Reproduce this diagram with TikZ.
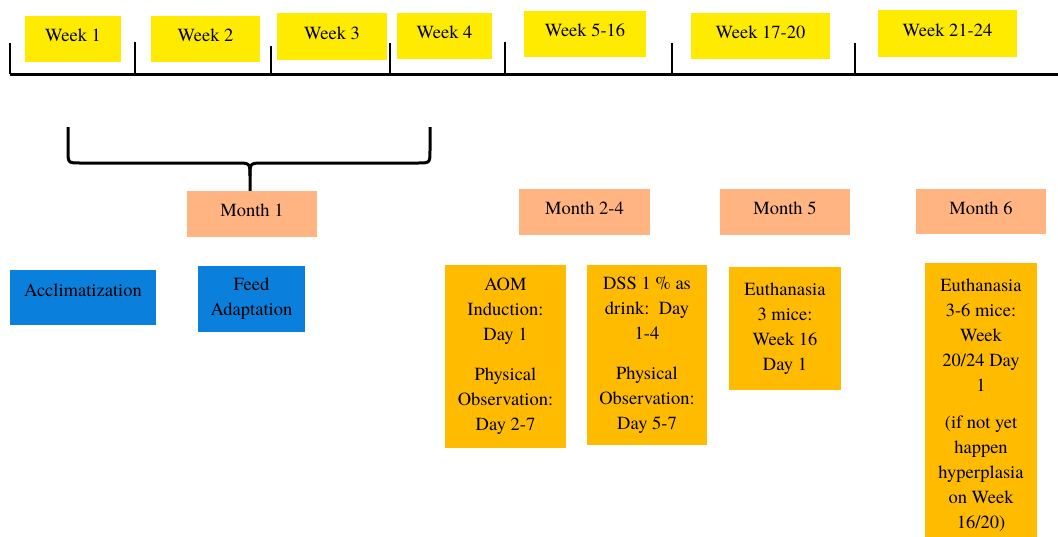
\documentclass[tikz,border=0pt]{standalone}
\usepackage{fontspec}
\setmainfont{TeX Gyre Termes}
\definecolor{wkyellow}{HTML}{FFEB00}
\definecolor{mosalmon}{HTML}{FFB482}
\definecolor{actblue}{HTML}{0A80DC}
\definecolor{actorange}{HTML}{FFBB00}
\begin{document}
\begin{tikzpicture}[x=1pt,y=-1pt,
  box/.style={inner sep=0pt, align=center, font=\rmfamily\fontsize{18.5}{25}\selectfont},
  single/.style={box, text height=13pt, text depth=8pt},
  wk/.style={single, fill=wkyellow},
  mo/.style={single, fill=mosalmon},
  bl/.style={box, fill=actblue},
  og/.style={box, fill=actorange},
  axis/.style={line width=3pt},
  tick/.style={line width=2.5pt},
  brace/.style={line width=3pt, line join=round}]
\useasboundingbox (0,0) rectangle (1058,536);
\clip (0,0) rectangle (1058,536);
% timeline
\coordinate (tl0) at (10,74);
\coordinate (tl1) at (1058,74);
\draw[axis] (tl0) -- (tl1);
\foreach \x/\t in {10/43,135/42,271/46,390/43,505/42,672/43,855/43}
  \draw[tick] (\x,74) -- (\x,\t);
% week boxes
\node[wk, minimum width=96pt, minimum height=46pt] (w1) at (73,39) {Week 1};
\node[wk, minimum width=109pt, minimum height=46pt] (w2) at (205.5,39) {Week 2};
\node[wk, minimum width=110pt, minimum height=47pt] (w3) at (332,36.5) {Week 3};
\node[wk, minimum width=95pt, minimum height=46pt] (w4) at (444.5,36) {Week 4};
\node[wk, minimum width=122pt, minimum height=46pt] (w5) at (585,34) {Week 5-16};
\node[wk, minimum width=139pt, minimum height=46pt] (w6) at (760.5,36) {Week 17-20};
\node[wk, minimum width=139pt, minimum height=47pt] (w7) at (947.5,33.5) {Week 21-24};
% month boxes
\node[mo, minimum width=130pt, minimum height=46pt] (m1) at (252,214) {Month 1};
\node[mo, minimum width=131pt, minimum height=46pt] (m2) at (584.5,212) {Month 2-4};
\node[mo, minimum width=130pt, minimum height=46pt] (m3) at (785,212) {Month 5};
\node[mo, minimum width=130pt, minimum height=45pt] (m4) at (981,211.5) {Month 6};
% brace
\draw[brace] (68,127) -- (68,150) .. controls (68,163) .. (80,163) -- (236,163)
  .. controls (250,163) .. (250,176) -- (m1.north -| 250,0);
\draw[brace] (430,127) -- (430,150) .. controls (430,163) .. (418,163) -- (264,163)
  .. controls (250,163) .. (250,176);
% activity boxes
\node[bl, minimum width=146pt, minimum height=55pt, text height=13pt, text depth=16pt] (acc) at (83,297.5) {Acclimatization};
\node[bl, minimum width=107pt, minimum height=66pt] (feed) at (251.5,299) {Feed\\Adaptation};
\node[og, minimum width=121pt, minimum height=183pt] (aom) at (505.5,356.5)
  {AOM\\Induction:\\Day 1\\[15pt]Physical\\Observation:\\Day 2-7};
\node[og, minimum width=120pt, minimum height=180pt] (dss) at (647,355)
  {DSS 1 \% as\\drink:\ \ Day\\1-4\\[15pt]Physical\\Observation:\\Day 5-7};
\node[og, minimum width=112pt, minimum height=123pt] (eu1) at (785,328.5)
  {Euthanasia\\3 mice:\\Week 16\\Day 1};
\node[og, minimum width=112pt, minimum height=284pt] (eu2) at (981,405)
  {Euthanasia\\3-6 mice:\\Week\\20/24 Day\\1\\[12pt](if not yet\\happen\\hyperplasia\\on Week\\16/20)};
\end{tikzpicture}
\end{document}
